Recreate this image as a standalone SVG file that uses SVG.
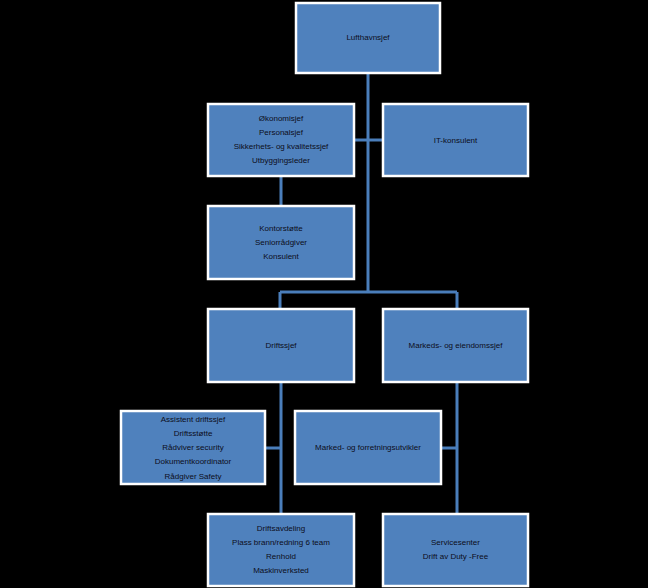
<svg xmlns="http://www.w3.org/2000/svg" width="648" height="588" viewBox="0 0 648 588">
<style>
.box{fill:#4f81bd;stroke:#ffffff;stroke-width:2.5}
.t{font-family:"Liberation Sans",Arial,sans-serif;font-size:8px;fill:#0d0d1a;text-anchor:middle}
.c{stroke:#4a7ebb;stroke-width:3;fill:none}
</style>
<rect width="648" height="588" fill="#000"/>
<g id="connectors">
<path class="c" d="M368 74V292M280 292H457M280 292V308M457 292V308"/>
<path class="c" d="M355 140H382"/>
<path class="c" d="M281 177V205"/>
<path class="c" d="M281 383V513M457 383V513"/>
<path class="c" d="M266 448H281M442 448H457"/>
</g>
<g id="lufthavnsjef"><rect class="box" x="296" y="3" width="144" height="70"/><text class="t" x="368" y="40">Lufthavnsjef</text></g>
<g id="okonomi"><rect class="box" x="208" y="104" width="146" height="72"/>
<text class="t" x="281" y="121">Økonomisjef</text>
<text class="t" x="281" y="135">Personalsjef</text>
<text class="t" x="281" y="149">Sikkerhets-  og kvalitetssjef</text>
<text class="t" x="281" y="163">Utbyggingsleder</text></g>
<g id="it"><rect class="box" x="383" y="104" width="145" height="72"/><text class="t" x="455.5" y="143">IT-konsulent</text></g>
<g id="kontor"><rect class="box" x="208" y="206" width="146" height="73"/>
<text class="t" x="281" y="231">Kontorstøtte</text>
<text class="t" x="281" y="245">Seniorrådgiver</text>
<text class="t" x="281" y="259">Konsulent</text></g>
<g id="drift"><rect class="box" x="208" y="309" width="146" height="73"/><text class="t" x="281" y="348">Driftssjef</text></g>
<g id="markeds"><rect class="box" x="383" y="309" width="145" height="73"/><text class="t" x="455.5" y="348">Markeds-  og eiendomssjef</text></g>
<g id="assistent"><rect class="box" x="121" y="411" width="144" height="73"/>
<text class="t" x="193" y="422">Assistent driftssjef</text>
<text class="t" x="193" y="436">Driftsstøtte</text>
<text class="t" x="193" y="450">Rådviver  security</text>
<text class="t" x="193" y="464">Dokumentkoordinator</text>
<text class="t" x="193" y="479">Rådgiver  Safety</text></g>
<g id="marked"><rect class="box" x="295" y="411" width="146" height="73"/><text class="t" x="368" y="450">Marked-  og forretningsutvikler</text></g>
<g id="driftsavdeling"><rect class="box" x="208" y="514" width="146" height="72"/>
<text class="t" x="281" y="531">Driftsavdeling</text>
<text class="t" x="281" y="545">Plass brann/redning  6 team</text>
<text class="t" x="281" y="559">Renhold</text>
<text class="t" x="281" y="573">Maskinverksted</text></g>
<g id="service"><rect class="box" x="383" y="514" width="145" height="72"/>
<text class="t" x="455.5" y="545">Servicesenter</text>
<text class="t" x="455.5" y="559">Drift av  Duty -Free</text></g>
</svg>
